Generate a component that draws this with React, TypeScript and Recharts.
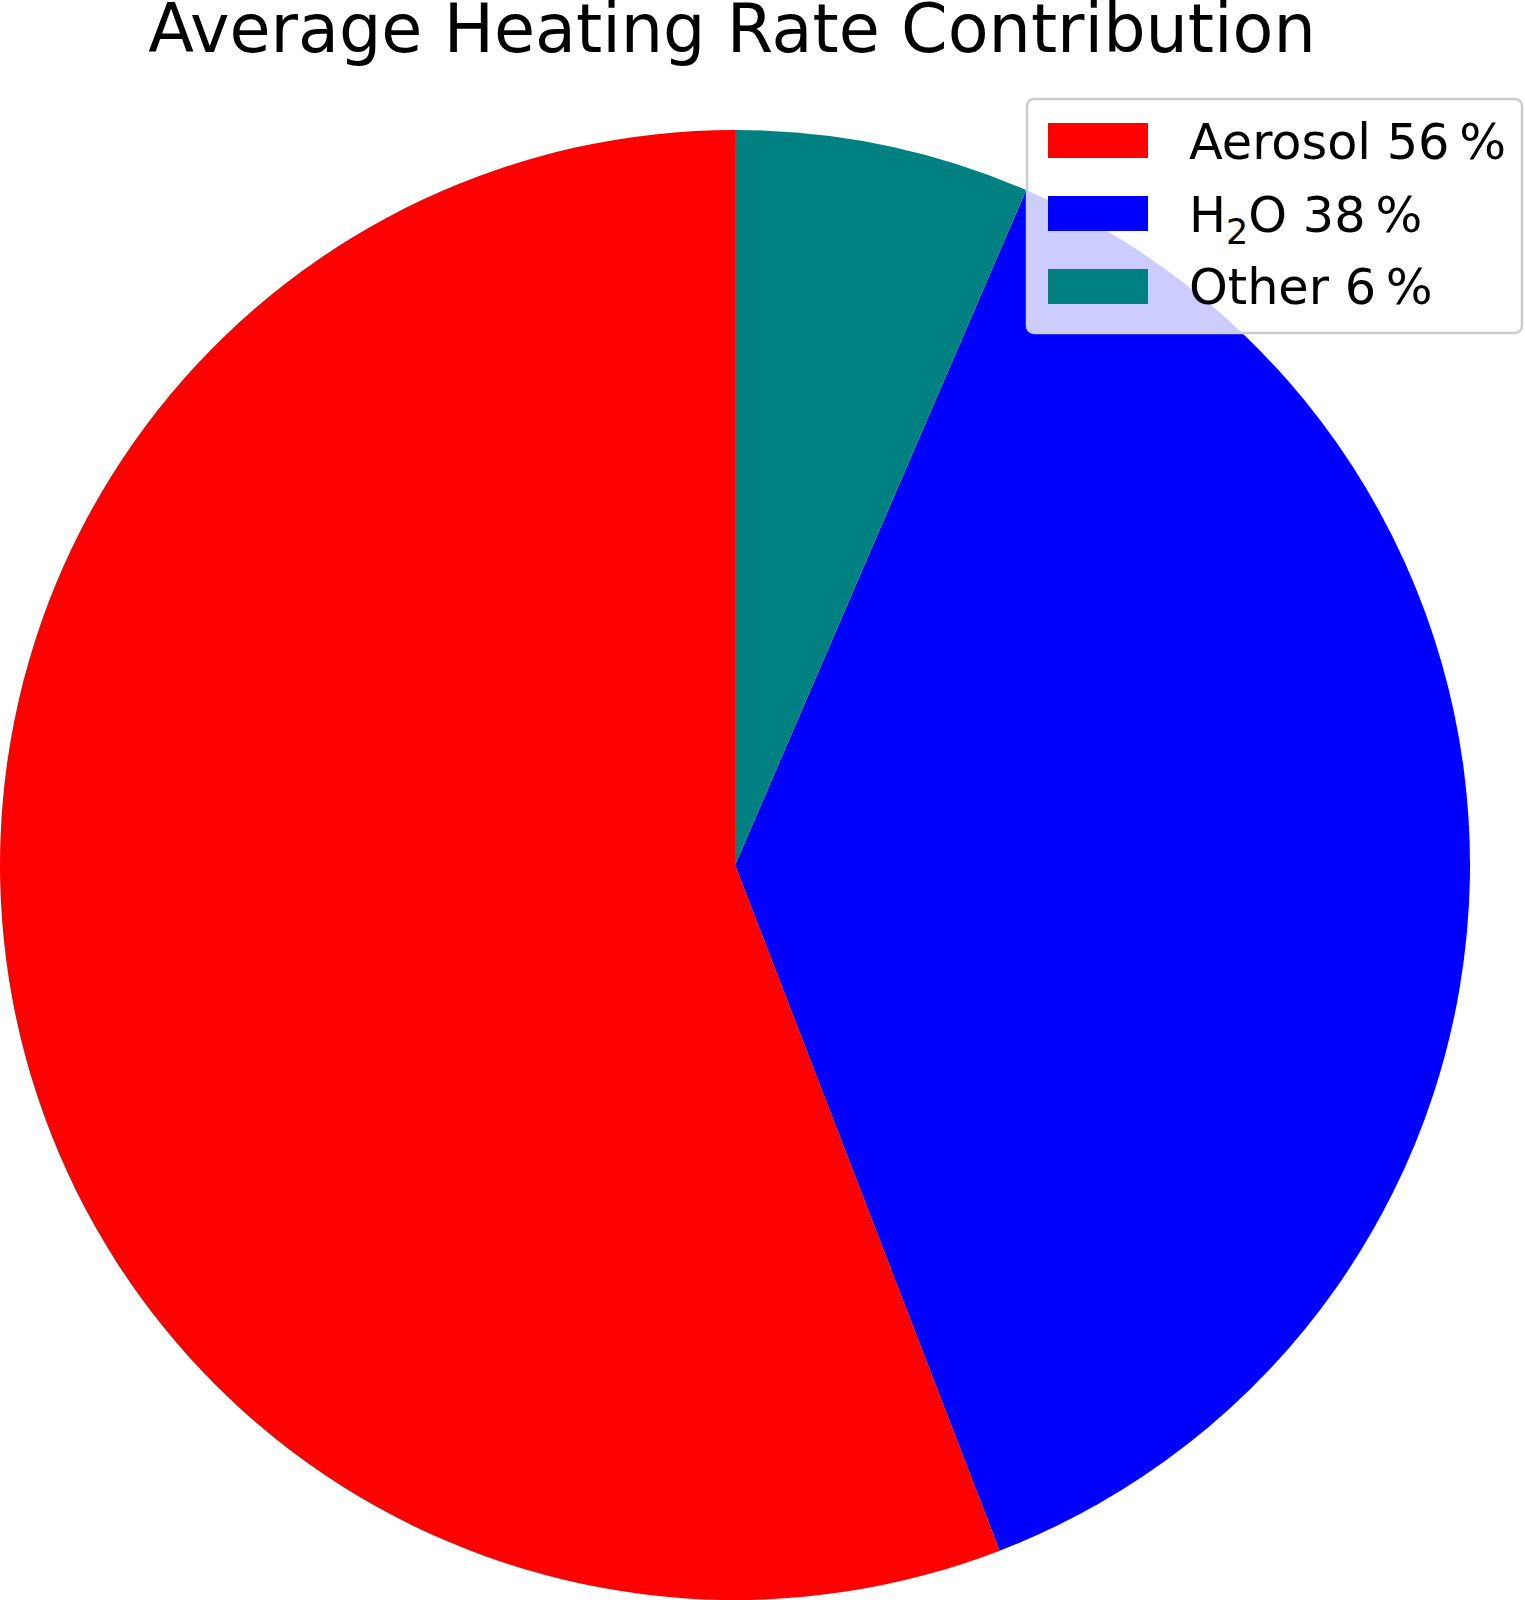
import React from "react";
import { PieChart, Pie, Cell } from "recharts";

const categories = ["Aerosol", "H2O", "Other"];
const shares = [55.86, 37.66, 6.48];
const legendPercents = ["56", "38", "6"];
const colors = ["#ff0000", "#0000ff", "#008080"];
const title = "Average Heating Rate Contribution";

const data = categories.map((name, i) => ({ name, value: shares[i] }));

const W = 1525;
const H = 1600;

function LegendLabel({ name, pct, x, y }: { name: string; pct: string; x: number; y: number }) {
  if (name === "H2O") {
    return (
      <text x={x} y={y} fontFamily="DejaVu Sans" fontSize={49.3} fill="#000">
        H
        <tspan fontSize={35} dy={12}>2</tspan>
        <tspan dy={-12}>{"O " + pct + "\u2009%"}</tspan>
      </text>
    );
  }
  return (
    <text x={x} y={y} fontFamily="DejaVu Sans" fontSize={49.3} fill="#000">
      {name + " " + pct + "\u2009%"}
    </text>
  );
}

export default function App() {
  return (
    <div style={{ position: "absolute", left: 0, top: 0, width: W, height: H, background: "#fff" }}>
      <PieChart width={W} height={H} margin={{ top: 0, right: 0, bottom: 0, left: 0 }}>
        <Pie
          data={data}
          dataKey="value"
          nameKey="name"
          cx={735}
          cy={865}
          innerRadius={0}
          outerRadius={735}
          startAngle={90}
          endAngle={450}
          stroke="none"
          isAnimationActive={false}
          label={false}
          labelLine={false}
        >
          {data.map((d, i) => (
            <Cell key={d.name} fill={colors[i]} stroke="none" />
          ))}
        </Pie>
      </PieChart>
      <svg
        width={W}
        height={H}
        style={{ position: "absolute", left: 0, top: 0, pointerEvents: "none" }}
      >
        <text
          x={732}
          y={52}
          textAnchor="middle"
          fontFamily="DejaVu Sans"
          fontSize={66.8}
          fill="#000"
        >
          {title}
        </text>
        <rect
          x={1027}
          y={99}
          width={495}
          height={234}
          rx={7}
          ry={7}
          fill="#ffffff"
          fillOpacity={0.8}
          stroke="#cccccc"
          strokeWidth={2.5}
        />
        {categories.map((name, i) => (
          <g key={name}>
            <rect x={1048} y={123 + i * 73} width={100} height={35} fill={colors[i]} />
            <LegendLabel name={name} pct={legendPercents[i]} x={1189} y={159 + i * 72.5} />
          </g>
        ))}
      </svg>
    </div>
  );
}
